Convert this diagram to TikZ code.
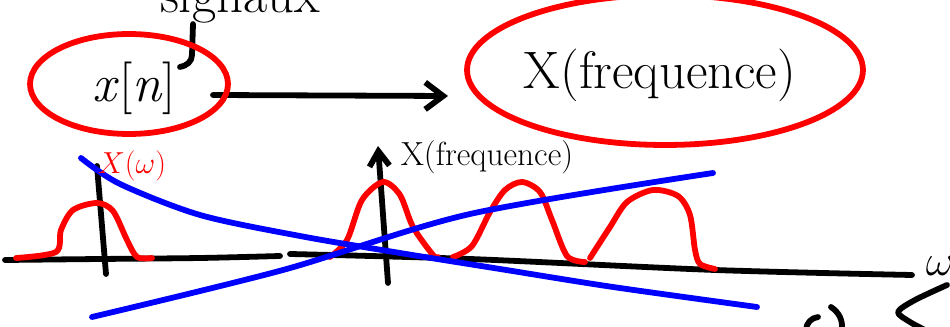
\documentclass[tikz,border=0pt]{standalone}
\usepackage{amsmath,amssymb}
\usepackage{xcolor}
\usepackage{tikz}
\usetikzlibrary{arrows.meta,backgrounds}
\usetikzlibrary{shapes,shapes.geometric}
\pgfdeclarelayer{edgelayer}
\pgfdeclarelayer{nodelayer}
\pgfsetlayers{background,edgelayer,nodelayer,main}
\tikzstyle{pen}=[line width=3.3pt,line cap=round,line join=round]
\tikzstyle{ink}=[pen,draw=black]
\tikzstyle{rink}=[pen,draw=red]
\tikzstyle{bink}=[pen,draw=blue]
\tikzstyle{diredge}=[ink,-{Straight Barb[length=3.6mm,width=5.4mm]}]
\tikzstyle{axtip}=[ink,-{Straight Barb[length=3mm,width=4mm]}]
\tikzstyle{rloop}=[ellipse,pen,draw=red,inner sep=0pt]
\tikzstyle{hand}=[inner sep=0pt,font=\fontsize{30}{34}\selectfont]
\tikzstyle{midhand}=[inner sep=0pt,font=\fontsize{19}{22}\selectfont]
\tikzstyle{rhand}=[inner sep=0pt,text=red,font=\fontsize{19}{22}\selectfont]

\begin{document}
\begin{tikzpicture}[x=0.02cm,y=-0.02cm]
	\useasboundingbox (0,0) rectangle (950,327);
	\clip (0,0) rectangle (950,327);
	\begin{pgfonlayer}{nodelayer}
		\node [style=hand,anchor=base] (sig) at (240,13) {signaux};
		\node [style=hand] (xn) at (134,88) {\textit{x}[\textit{n}]};
		\node [style=rloop,minimum width=3.96cm,minimum height=2cm] (xnring) at (129,84) {};
		\node [style=hand] (Xf) at (660,75) {X(frequence)};
		\node [style=rloop,minimum width=7.92cm,minimum height=3cm] (Xfring) at (665,70) {};
		\node [style=rhand] (Xw) at (132,166) {$X(\omega)$};
		\node [style=midhand] (Xlab) at (487,157) {X(frequence)};
		\node [style=hand] (wcut) at (940,266) {$\omega$};
	\end{pgfonlayer}
	\begin{pgfonlayer}{edgelayer}
		% signal label hooked onto x[n]
		\coordinate (hook) at (180,67);
		\draw [style=ink] (sig.south -| 193,0) -- (192,55) to[out=-90,in=10] (hook);
		\coordinate (a0) at (213,95);
		\coordinate (a1) at (448,96);
		\draw [style=diredge] (a0) -- (a1);
		% axes
		\coordinate (l0) at (97,166);
		\coordinate (l1) at (106,274);
		\draw [style=ink] (l0) -- (l1);
		\coordinate (m0) at (388,283);
		\coordinate (m1) at (378,146);
		\draw [style=axtip] (m0) -- (m1);
		\draw [style=ink] plot[smooth] coordinates {(5,260) (100,259) (200,258) (280,256)};
		\draw [style=ink] plot[smooth] coordinates {(290,254) (470,259) (715,270) (912,275)};
		% spectra
		\draw [style=rink] plot[smooth] coordinates {(16,258) (56,252) (61,230) (73,210) (97,203) (113,211) (127,240) (137,257) (152,258)};
		\draw [style=rink] plot[smooth] coordinates {(330,257) (347,240) (362,200) (383,182) (400,195) (413,227) (433,255) (438,257)};
		\draw [style=rink] plot[smooth] coordinates {(453,257) (472,246) (490,212) (505,190) (522,182) (540,192) (552,220) (567,256) (585,262)};
		\draw [style=rink] plot[smooth] coordinates {(590,258) (610,227) (627,202) (653,190) (678,196) (690,215) (695,250) (700,264) (715,269)};
		% crossed out
		\draw [style=bink] plot[smooth] coordinates {(81,158) (120,184) (200,215) (300,236) (400,253) (500,269) (613,287) (757,307)};
		\draw [style=bink] plot[smooth] coordinates {(92,317) (283,270) (470,214) (713,173)};
		% cut-off strokes at the border
		\draw [style=ink] plot[smooth] coordinates {(947,285) (915,300) (898,312) (910,322) (925,330)};
		\draw [style=ink] (806,330) to[bend left=40] (818,317);
		\draw [style=ink] (831,307) to[bend left=30] (842,330);
	\end{pgfonlayer}
\end{tikzpicture}
\end{document}
